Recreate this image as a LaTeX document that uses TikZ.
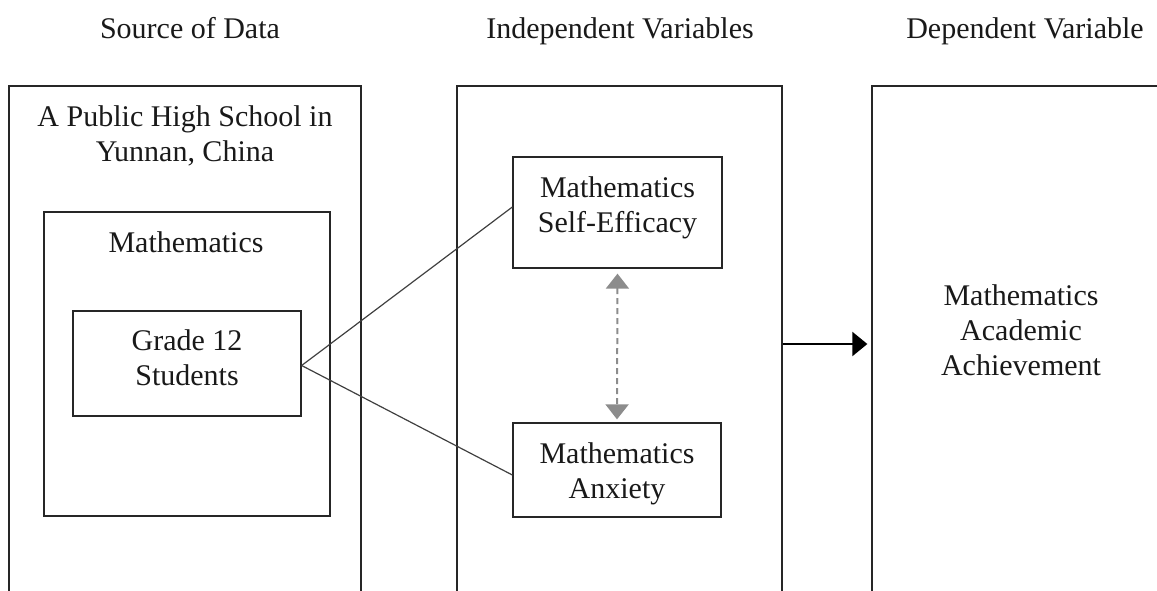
\documentclass[tikz,border=0pt]{standalone}
\usepackage{fontspec}
\setmainfont{Liberation Serif}
\usetikzlibrary{arrows.meta,calc}
\begin{document}
\begin{tikzpicture}[x=1pt,y=-1pt,
  box/.style={draw=black!85, line width=1.3pt, rectangle, inner sep=0pt, anchor=center},
  txt/.style={font=\fontsize{30}{35}\selectfont, anchor=base, inner sep=0pt, text=black!90},
  link/.style={draw=black!75, line width=1.2pt},
  dasharrow/.style={draw=black!45, line width=2pt, dash pattern=on 6pt off 4pt,
    {Triangle[width=23pt,length=15pt,fill=black!45]}-{Triangle[width=23pt,length=15pt,fill=black!45]}},
  mainarrow/.style={draw=black, line width=2.2pt, -{Triangle[width=24pt,length=15pt]}}
]
\useasboundingbox (0,0) rectangle (1157,590);
\clip (0,0) rectangle (1157,590);

% outer column boxes
\node[box, minimum width=352pt, minimum height=554pt] (src) at (185,363) {};
\node[box, minimum width=325pt, minimum height=554pt] (mid) at (619.5,363) {};
\node[box, minimum width=328pt, minimum height=554pt] (dep) at (1036,363) {};

% inner boxes
\node[box, minimum width=286pt, minimum height=304pt] (math) at (187,364) {};
\node[box, minimum width=228pt, minimum height=105pt] (grade) at (187,363.5) {};
\node[box, minimum width=209pt, minimum height=111pt] (se) at (617.5,212.5) {};
\node[box, minimum width=208pt, minimum height=94pt] (ax) at (617,470) {};

% headings
\node[txt] (h1) at (190,38) {Source of Data};
\node[txt] (h2) at (620,38) {Independent Variables};
\node[txt] (h3) at (1025,38) {Dependent Variable};

% texts
\node[txt] (s1) at (185,126.5) {A Public High School in};
\node[txt] (s2) at (185,161.5) {Yunnan, China};
\node[txt] (m1) at (186,252) {Mathematics};
\node[txt] (g1) at (187,350.5) {Grade 12};
\node[txt] (g2) at (187,385.5) {Students};
\node[txt] (e1) at (617.5,197) {Mathematics};
\node[txt] (e2) at (617.5,232) {Self-Efficacy};
\node[txt] (a1) at (617,463) {Mathematics};
\node[txt] (a2) at (617,498) {Anxiety};
\node[txt] (r1) at (1021,305) {Mathematics};
\node[txt] (r2) at (1021,340) {Academic};
\node[txt] (r3) at (1021,375) {Achievement};

% connectors
\draw[link] ([yshift=-2pt]grade.east) -- ([yshift=5.5pt]se.west);
\draw[link] ([yshift=-2pt]grade.east) -- ([yshift=-5pt]ax.west);
\draw[dasharrow] ([yshift=-5pt]se.south) -- ([yshift=3pt]ax.north);
\draw[mainarrow] ([yshift=19pt]mid.east) -- ([yshift=19pt,xshift=-4pt]dep.west);
\end{tikzpicture}
\end{document}
